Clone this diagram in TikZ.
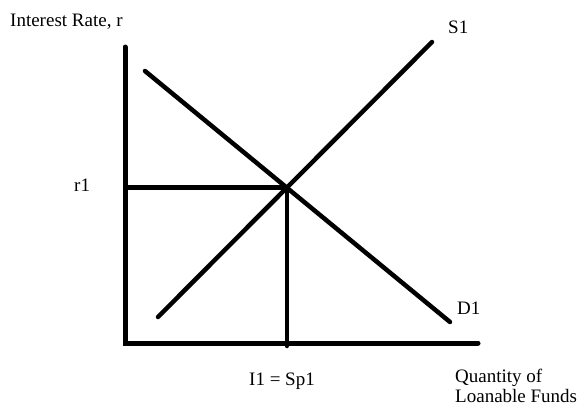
\documentclass[tikz,border=0pt]{standalone}
\usepackage{fontspec}
\setmainfont{Liberation Serif}
\begin{document}
\begin{tikzpicture}[x=1pt,y=-1pt,
  axisline/.style={line width=5pt,line cap=round},
  curve/.style={line width=4.5pt,line cap=round},
  guide/.style={line width=4.5pt},
  lbl/.style={inner sep=0pt,anchor=base west,font=\fontsize{19pt}{20pt}\selectfont}]
\useasboundingbox[fill=white] (0,0) rectangle (578,407);
% axes
\coordinate (O) at (125,343);
\coordinate (Ytop) at (125,47);
\coordinate (Xend) at (478,343);
\draw[axisline] (Ytop) -- (O) -- (Xend);
% demand and supply
\coordinate (Dstart) at (145,71);
\coordinate (Dend) at (450,322);
\coordinate (Sstart) at (158,317);
\coordinate (Send) at (432,42);
\draw[curve] (Dstart) -- (Dend);
\draw[curve] (Sstart) -- (Send);
\coordinate (E) at (intersection of Dstart--Dend and Sstart--Send);
\coordinate (Ry) at (E -| O);
\coordinate (Qx) at ([yshift=-3pt]E |- O);
\draw[guide] (Ry) -- (E);
\draw[guide,line cap=round] (E) -- (Qx);
% labels
\node[lbl] (ylab) at (10,26) {Interest Rate, r};
\node[lbl] (s1) at (448,33) {S1};
\node[lbl] (r1) at (74,191) {r1};
\node[lbl] (d1) at (457,314) {D1};
\node[lbl] (q1) at (249,385) {I1 = Sp1};
\node[lbl] (xlab1) at (455,382) {Quantity of};
\node[lbl] (xlab2) at (455,402) {Loanable Funds};
\end{tikzpicture}
\end{document}
